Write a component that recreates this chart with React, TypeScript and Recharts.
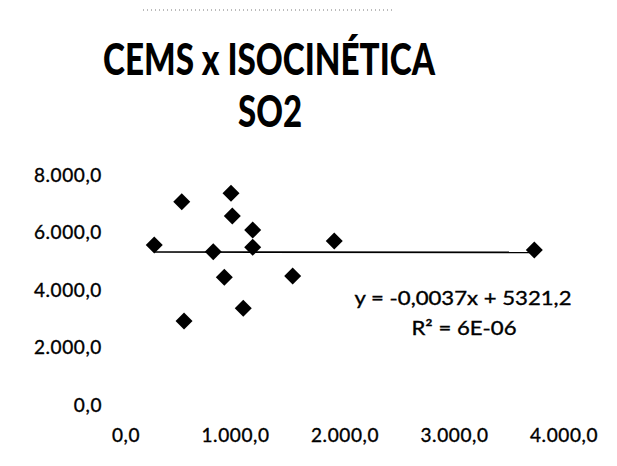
import React from 'react';
import { ScatterChart, Scatter, XAxis, YAxis, ReferenceLine } from 'recharts';

// CEMS readings (x) against isokinetic sampling results (y), SO2
const cems = [258, 509, 959, 971, 1157, 1157, 797, 898, 1522, 1071, 530, 1902, 3729];
const isocinetica = [5565, 7071, 7363, 6574, 6087, 5485, 5333, 4441, 4487, 3362, 2922, 5704, 5391];

const xTicks = [0, 1000, 2000, 3000, 4000];
const yTicks = [0, 2000, 4000, 6000, 8000];

// linear trend as reported on the chart
const slope = -0.0037;
const intercept = 5321.2;
const equationText = 'y = -0,0037x + 5321,2';
const r2Text = 'R² = 6E-06';

const points = cems.map((x, i) => ({ x, y: isocinetica[i] }));
const xMin = Math.min(...cems);
const xMax = Math.max(...cems);

const FONT = 'Lato, "Open Sans", sans-serif';

// 1234.5 -> "1.234,5"
const fmt = (v: number) => {
  const [int, dec] = v.toFixed(1).split('.');
  return int.replace(/\B(?=(\d{3})+(?!\d))/g, '.') + ',' + dec;
};

const Diamond = (props: any) => {
  const { cx, cy } = props;
  const r = 8.5;
  return <path d={`M${cx},${cy - r}L${cx + r},${cy}L${cx},${cy + r}L${cx - r},${cy}Z`} fill="#000" />;
};

// slight outline makes the labels a bit heavier
const tickStyle = {
  fill: '#000', fontSize: 19, fontFamily: FONT, letterSpacing: 0.6, stroke: '#000', strokeWidth: 0.35,
};

export default function App() {
  return (
    <div style={{ position: 'absolute', left: 0, top: 0, width: 617, height: 466, background: '#fff' }}>
      <ScatterChart width={617} height={466} margin={{ top: 175, right: 53, bottom: 29, left: 0 }}>
        <line x1={143} y1={10} x2={392} y2={10} stroke="#777" strokeWidth={1} strokeDasharray="1 3" />
        <text x={269} y={75} textAnchor="middle" fontFamily={FONT} fontWeight={900} fontSize={44}
          textLength={332} lengthAdjust="spacingAndGlyphs" fill="#000">
          CEMS x ISOCINÉTICA
        </text>
        <text x={270} y={127} textAnchor="middle" fontFamily={FONT} fontWeight={900} fontSize={44}
          textLength={64} lengthAdjust="spacingAndGlyphs" fill="#000">
          SO2
        </text>
        <XAxis type="number" dataKey="x" domain={[0, 4000]} ticks={xTicks} tickFormatter={fmt}
          axisLine={false} tickLine={false} tickSize={0} tickMargin={24} height={32} tick={tickStyle} />
        <YAxis type="number" dataKey="y" domain={[0, 8000]} ticks={yTicks} tickFormatter={fmt}
          axisLine={false} tickLine={false} tickSize={0} tickMargin={24} width={126} tick={tickStyle} />
        <ReferenceLine
          segment={[
            { x: xMin, y: slope * xMin + intercept },
            { x: xMax, y: slope * xMax + intercept },
          ]}
          stroke="#000"
          strokeWidth={1.6}
        />
        <Scatter data={points} shape={Diamond} isAnimationActive={false} />
        <text x={463} y={305} textAnchor="middle" fontFamily={FONT} fontSize={19} fill="#000"
          stroke="#000" strokeWidth={0.35} textLength={217} lengthAdjust="spacingAndGlyphs">
          {equationText}
        </text>
        <text x={464} y={335} textAnchor="middle" fontFamily={FONT} fontSize={19} fill="#000"
          stroke="#000" strokeWidth={0.35} textLength={105} lengthAdjust="spacingAndGlyphs">
          {r2Text}
        </text>
      </ScatterChart>
    </div>
  );
}
